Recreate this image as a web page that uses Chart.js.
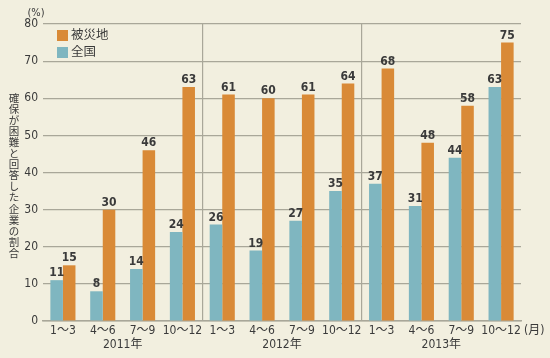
<!DOCTYPE html>
<html><head><meta charset="utf-8">
<script src="https://cdn.jsdelivr.net/npm/chart.js@4/dist/chart.umd.min.js"></script>
<style>html,body{margin:0;padding:0;background:#f2efdf;overflow:hidden}#wrap{width:550px;height:358px;position:relative}</style>
</head><body><div id="wrap"><canvas id="c" width="550" height="358"></canvas></div>
<script>
const periods = ['1〜3','4〜6','7〜9','10〜12','1〜3','4〜6','7〜9','10〜12','1〜3','4〜6','7〜9','10〜12'];
const years = ['2011年','2012年','2013年'];
const nationalLabel = '全国';
const disasterLabel = '被災地';
const national = [11, 8, 14, 24, 26, 19, 27, 35, 37, 31, 44, 63];
const disaster = [15, 30, 46, 63, 61, 60, 61, 64, 68, 48, 58, 75];
const yMin = 0, yMax = 80, yStep = 10;
const yTitle = '確保が困難と回答した企業の割合';
const yUnit = '(%)';
const xUnit = '(月)';

const FONT = '"Liberation Sans Narrow", "DejaVu Sans Condensed", "Noto Sans CJK JP", sans-serif';
const BLUE = '#7fb6c0', ORANGE = '#d98a37', GRID = '#a9a799', TXT = '#3a3a3a', BG = '#f2efdf';

const bgPlugin = {
  id: 'bg',
  beforeDraw(chart) {
    const ctx = chart.ctx;
    ctx.save(); ctx.fillStyle = BG; ctx.fillRect(0, 0, chart.width, chart.height); ctx.restore();
  }
};

const decoPlugin = {
  id: 'deco',
  afterDatasetsDraw(chart) {
    const ctx = chart.ctx;
    ctx.save();
    // value labels
    ctx.fillStyle = TXT;
    ctx.font = 'bold 12px ' + FONT;
    ctx.textAlign = 'center';
    ctx.textBaseline = 'bottom';
    chart.data.datasets.forEach((ds, di) => {
      const meta = chart.getDatasetMeta(di);
      meta.data.forEach((el, i) => {
        ctx.fillText(String(ds.data[i]), el.x, el.y - 1);
      });
    });
    // legend (top-left inside chart area)
    const ca = chart.chartArea;
    const order = [1, 0];
    ctx.font = '12.5px ' + FONT;
    ctx.textAlign = 'left';
    ctx.textBaseline = 'middle';
    order.forEach((di, k) => {
      const ds = chart.data.datasets[di];
      const bx = ca.left + 14, by = ca.top + 6 + k * 17;
      ctx.fillStyle = ds.backgroundColor;
      ctx.fillRect(bx, by, 11, 11);
      ctx.fillStyle = TXT;
      ctx.fillText(ds.label, bx + 14, by + 6);
    });
    // y axis title, vertical stacked characters
    ctx.font = '10.5px ' + FONT;
    ctx.textAlign = 'center';
    const chars = Array.from(yTitle);
    const step = 11.1;
    const midY = (ca.top + ca.bottom) / 2 + 4;
    const startY = midY - (chars.length - 1) * step / 2;
    chars.forEach((ch, i) => ctx.fillText(ch, 14, startY + i * step));
    // units
    ctx.font = '11px ' + FONT;
    ctx.fillText(yUnit, 36, 13);
    ctx.textAlign = 'left';
    ctx.font = '12px ' + FONT;
    ctx.fillText(xUnit, ca.right + 3, ca.bottom + 10);
    ctx.restore();
  }
};

new Chart(document.getElementById('c'), {
  type: 'bar',
  data: {
    labels: periods,
    datasets: [
      { label: nationalLabel, data: national, backgroundColor: BLUE, xAxisID: 'x', categoryPercentage: 0.63, barPercentage: 1.0 },
      { label: disasterLabel, data: disaster, backgroundColor: ORANGE, xAxisID: 'x', categoryPercentage: 0.63, barPercentage: 1.0 }
    ]
  },
  options: {
    responsive: false,
    animation: false,
    devicePixelRatio: 1,
    layout: { padding: { top: 24, right: 29, left: 0, bottom: 0 } },
    plugins: { legend: { display: false }, tooltip: { enabled: false } },
    scales: {
      x: {
        type: 'category',
        position: 'bottom',
        offset: true,
        grid: { display: false, drawTicks: false },
        border: { display: true, color: GRID, width: 1.5 },
        ticks: { color: TXT, font: { family: FONT, size: 12 }, padding: 3, maxRotation: 0, autoSkip: false },
        afterFit(s) { s.height = 15; }
      },
      x2: {
        type: 'category',
        position: 'bottom',
        labels: years,
        offset: true,
        grid: {
          offset: true,
          drawTicks: false,
          lineWidth: 1.2,
          color: (c) => (c.index === 1 || c.index === 2) ? GRID : 'rgba(0,0,0,0)'
        },
        border: { display: false },
        ticks: { color: TXT, font: { family: FONT, size: 12 }, padding: 2, maxRotation: 0, autoSkip: false },
        afterFit(s) { s.height = 22; }
      },
      y: {
        min: yMin, max: yMax,
        grid: { color: GRID, lineWidth: 1.2, drawTicks: false },
        border: { display: false },
        ticks: { stepSize: yStep, color: TXT, font: { family: FONT, size: 12 }, padding: 5 },
        afterFit(s) { s.width = 43; }
      }
    }
  },
  plugins: [bgPlugin, decoPlugin]
});
</script></body></html>
